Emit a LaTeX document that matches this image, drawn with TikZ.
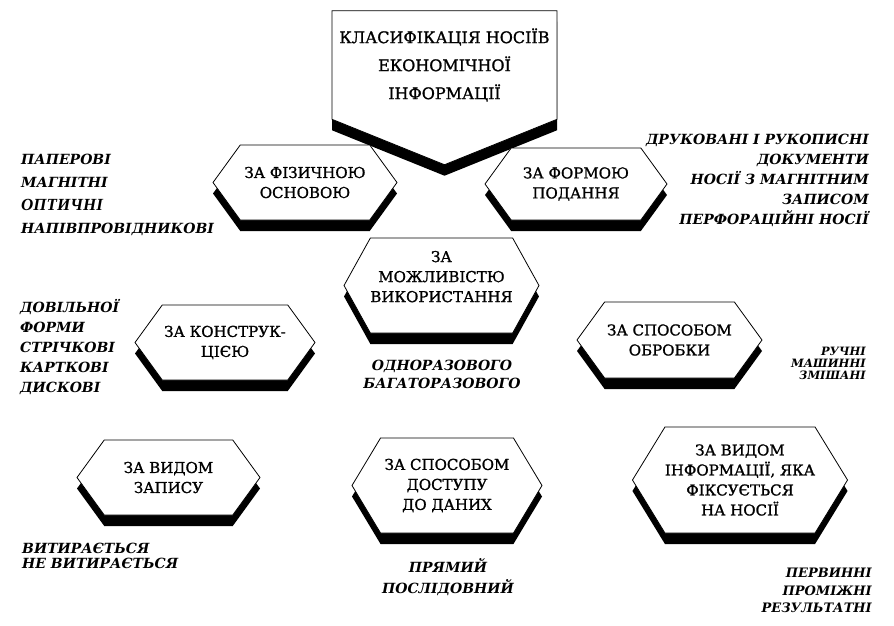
\documentclass[tikz,border=0pt]{standalone}
\usepackage{fontspec}
\setmainfont{DejaVu Serif}
\newfontfamily\timesfont{Liberation Serif}
\newfontfamily\heavyfont{DejaVu Serif}[FakeBold=1.2]
\usetikzlibrary{shapes.symbols, shadows}

\begin{document}
\begin{tikzpicture}[x=1pt, y=-1pt,
    shdw/.style={drop shadow={shadow xshift=0pt, shadow yshift=-11pt, opacity=1, fill=black}},
    hexa/.style={signal, signal to=east and west, signal pointer angle=108, draw, fill=white, line width=0.8pt, inner sep=0pt, align=center, font=\heavyfont\fontsize{15}{20}\selectfont, shdw},
    lst/.style 2 args={inner sep=0pt, font=\fontsize{#1}{#2}\selectfont\bfseries\itshape}]
  \useasboundingbox[fill=white] (0,0) rectangle (894,625);

  % title
  \node[signal, signal to=south, signal pointer angle=136, draw, fill=white, line width=0.8pt, inner sep=0pt, minimum width=225pt, minimum height=151pt, align=center, font=\heavyfont\fontsize{16}{28}\selectfont, shdw] (klas) at (444.5,65) {КЛАСИФІКАЦІЯ НОСІЇВ\\ЕКОНОМІЧНОЇ\\ІНФОРМАЦІЇ};

  % classes
  \node[hexa, minimum width=184pt, minimum height=75pt] (fiz) at (305,182.5) {ЗА ФІЗИЧНОЮ\\ОСНОВОЮ};
  \node[hexa, minimum width=182pt, minimum height=72pt] (form) at (576,184) {ЗА ФОРМОЮ\\ПОДАННЯ};
  \node[hexa, minimum width=187pt, minimum height=95pt, signal pointer angle=122, text depth=18pt] (mozh) at (441.5,285.5) {ЗА\\МОЖЛИВІСТЮ\\ВИКОРИСТАННЯ};
  \node[hexa, minimum width=180pt, minimum height=75pt] (konstr) at (225,342.5) {ЗА КОНСТРУК-\\ЦІЄЮ};
  \node[hexa, minimum width=185pt, minimum height=76pt] (obrob) at (669.5,340) {ЗА СПОСОБОМ\\ОБРОБКИ};
  \node[hexa, minimum width=183pt, minimum height=75pt] (zapys) at (168.5,477.5) {ЗА ВИДОМ\\ЗАПИСУ};
  \node[hexa, minimum width=190pt, minimum height=95pt, signal pointer angle=118] (dostup) at (447,485.5) {ЗА СПОСОБОМ\\ДОСТУПУ\\ДО ДАНИХ};
  \node[hexa, minimum width=214pt, minimum height=106pt, signal pointer angle=117] (vyd) at (740,480) {ЗА ВИДОМ\\ІНФОРМАЦІЇ, ЯКА\\ФІКСУЄТЬСЯ\\НА НОСІЇ};

  % kinds
  \node[lst={14}{23}, align=left, anchor=west] (fizlist) at (21,195) {ПАПЕРОВІ\\МАГНІТНІ\\{\timesfont\fontsize{17}{23}\selectfont ОПТИЧНІ}\\НАПІВПРОВІДНИКОВІ};
  \node[lst={14}{20}, align=right, anchor=east] (formlist) at (869,180) {ДРУКОВАНІ І РУКОПИСНІ\\ДОКУМЕНТИ\\НОСІЇ З МАГНІТНИМ\\ЗАПИСОМ\\ПЕРФОРАЦІЙНІ НОСІЇ};
  \node[lst={14}{20}, align=left, anchor=west] (konstrlist) at (20,347) {ДОВІЛЬНОЇ\\ФОРМИ\\СТРІЧКОВІ\\КАРТКОВІ\\ДИСКОВІ};
  \node[lst={14}{18}, align=center] (mozhlist) at (442,374) {ОДНОРАЗОВОГО\\БАГАТОРАЗОВОГО};
  \node[lst={11.5}{12}, align=right, anchor=east] (obroblist) at (866,363) {РУЧНІ\\МАШИННІ\\ЗМІШАНІ};
  \node[lst={14}{15}, align=left, anchor=west] (zapyslist) at (22,555.5) {ВИТИРАЄТЬСЯ\\НЕ ВИТИРАЄТЬСЯ};
  \node[lst={14}{21}, align=center] (dostuplist) at (448,577.5) {ПРЯМИЙ\\ПОСЛІДОВНИЙ};
  \node[lst={13}{17.5}, align=right, anchor=east] (vydlist) at (872,590.5) {ПЕРВИННІ\\ПРОМІЖНІ\\РЕЗУЛЬТАТНІ};
\end{tikzpicture}
\end{document}
